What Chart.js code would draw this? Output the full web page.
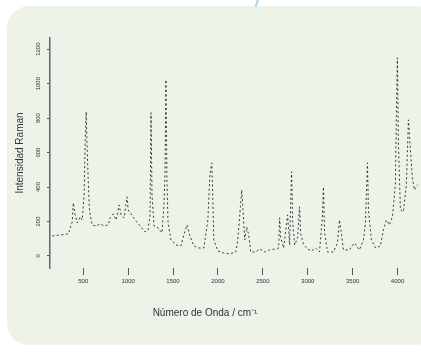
<!DOCTYPE html>
<html>
<head>
<meta charset="utf-8">
<script src="https://cdn.jsdelivr.net/npm/chart.js@4"></script>
<style>
  html, body { margin: 0; padding: 0; background: #ffffff; }
  #wrap { position: relative; width: 421px; height: 355px; overflow: hidden; }
  #panel { position: absolute; left: 7px; top: 6px; width: 430px; height: 339px;
           background: #edf3e8; border-radius: 22px; }
  #blue { position: absolute; left: 256px; top: -2px; width: 2px; height: 9px;
          background: #a9d3f2; transform: rotate(18deg); }
  canvas { position: absolute; left: 0; top: 0; }
</style>
</head>
<body>
<div id="wrap">
  <div id="panel"></div>
  <div id="blue"></div>
  <canvas id="chart" width="421" height="355"></canvas>
</div>
<script>
// spectrum: wavenumber (cm-1) and intensity
var numeroOnda = [
    156, 245, 334, 378, 389, 411, 433, 467, 489, 511,
    522, 533, 544, 555, 567, 578, 600, 644, 689, 733,
    778, 800, 833, 866, 900, 922, 955, 988, 1000, 1033,
    1077, 1133, 1188, 1222, 1244, 1255, 1266, 1288, 1333, 1377,
    1399, 1410, 1421, 1432, 1444, 1477, 1532, 1588, 1621, 1655,
    1688, 1732, 1788, 1843, 1888, 1910, 1932, 1943, 1954, 1999,
    2065, 2132, 2199, 2221, 2243, 2265, 2276, 2299, 2321, 2343,
    2365, 2421, 2465, 2521, 2576, 2643, 2676, 2687, 2698, 2732,
    2776, 2798, 2820, 2832, 2854, 2887, 2909, 2920, 2954, 2998,
    3042, 3087, 3131, 3164, 3175, 3187, 3220, 3287, 3331, 3353,
    3376, 3398, 3465, 3520, 3576, 3620, 3642, 3665, 3676, 3709,
    3754, 3809, 3842, 3876, 3909, 3943, 3976, 3987, 3998, 4010,
    4032, 4065, 4098, 4121, 4143, 4165, 4188, 4221
];
var intensidad = [
    116, 122, 128, 198, 308, 238, 192, 227, 209, 366,
    674, 837, 616, 453, 285, 238, 180, 174, 186, 174,
    180, 221, 244, 209, 296, 238, 221, 343, 267, 244,
    209, 174, 139, 151, 238, 831, 354, 174, 163, 134,
    296, 471, 1023, 442, 198, 93, 64, 58, 122, 180,
    116, 58, 46, 46, 209, 471, 540, 325, 93, 29,
    17, 12, 23, 93, 238, 383, 296, 93, 168, 122,
    23, 23, 41, 23, 35, 41, 46, 221, 110, 46,
    238, 64, 488, 198, 64, 105, 285, 134, 64, 41,
    29, 46, 23, 238, 400, 139, 23, 23, 76, 209,
    122, 35, 35, 76, 35, 93, 192, 540, 267, 93,
    46, 58, 151, 209, 180, 227, 413, 819, 1150, 645,
    267, 256, 413, 790, 616, 453, 383, 413
];

// axis ticks
var ticksX = [500, 1000, 1500, 2000, 2500, 3000, 3500, 4000];
var ticksY = [0, 200, 400, 600, 800, 1000, 1200];

var tituloX = "Número de Onda / cm⁻¹";

var tickFont = { family: "Liberation Sans", size: 6 };
var titleFont = { family: "Liberation Sans", size: 10 };

var puntos = numeroOnda.map(function (x, i) {
    return { x: x, y: intensidad[i] };
});

function fijarTicks(lista) {
    return function (scale) {
        scale.ticks = lista.map(function (v) { return { value: v }; });
    };
}

// the x title sits left of the plot centre in the original, so draw it here
var tituloAbajo = {
    id: "tituloAbajo",
    afterDraw: function (chart) {
        var ctx = chart.ctx;
        ctx.save();
        ctx.font = "10px 'Liberation Sans'";
        ctx.fillStyle = "#333333";
        ctx.textAlign = "center";
        ctx.textBaseline = "middle";
        ctx.fillText(tituloX, 205, 313);
        ctx.restore();
    }
};

new Chart(document.getElementById("chart").getContext("2d"), {
    type: "line",
    data: {
        datasets: [
            {
                data: puntos,
                borderColor: "#222222",
                borderWidth: 0.9,
                borderDash: [2, 2.5],
                pointRadius: 0,
                tension: 0
            }
        ]
    },
    options: {
        responsive: false,
        animation: false,
        layout: { padding: { left: 14, top: 38, right: 1, bottom: 30 } },
        plugins: {
            legend: { display: false },
            tooltip: { enabled: false }
        },
        scales: {
            x: {
                type: "linear",
                min: 130,
                max: 4250,
                border: { display: false },
                grid: { drawOnChartArea: false, drawTicks: true, tickLength: 7, color: "#555555" },
                afterBuildTicks: fijarTicks(ticksX),
                ticks: {
                    padding: 3,
                    color: "#333333",
                    font: tickFont,
                    maxRotation: 0,
                    callback: function (v) { return String(v); }
                },
                title: { display: false },
                afterFit: function (s) { s.height = 57; }
            },
            y: {
                min: -70,
                max: 1265,
                border: { display: true, color: "#666666", width: 1.5 },
                grid: { drawOnChartArea: false, drawTicks: true, tickLength: 3, color: "#555555" },
                afterBuildTicks: fijarTicks(ticksY),
                ticks: {
                    padding: 2,
                    minRotation: 90,
                    maxRotation: 90,
                    crossAlign: "center",
                    color: "#333333",
                    font: tickFont,
                    callback: function (v) { return String(v); }
                },
                title: {
                    display: true,
                    text: "Intensidad Raman",
                    color: "#333333",
                    font: titleFont,
                    padding: 0
                },
                afterFit: function (s) { s.width = 36; }
            }
        }
    },
    plugins: [tituloAbajo]
});
</script>
</body>
</html>
